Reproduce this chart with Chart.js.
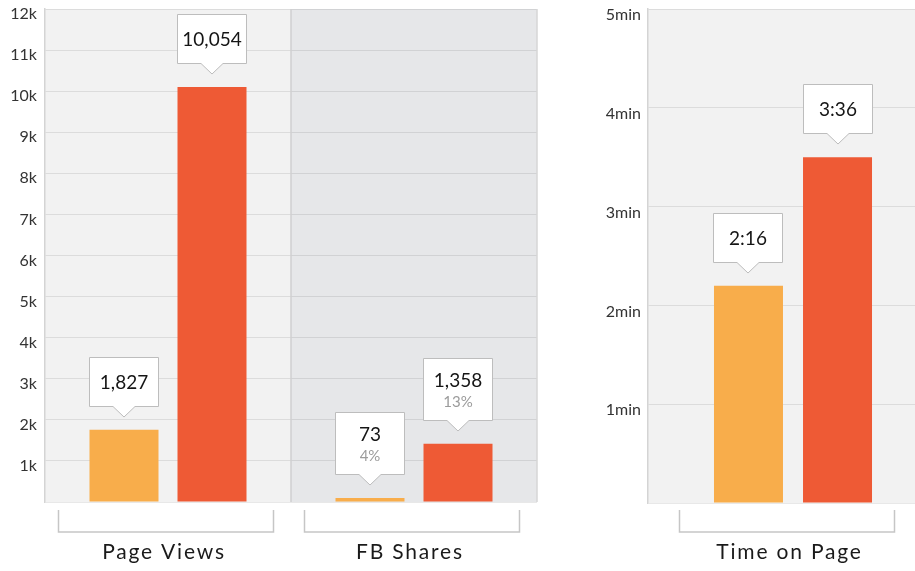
<!DOCTYPE html>
<html><head><meta charset="utf-8">
<script src="https://cdn.jsdelivr.net/npm/chart.js@4.4.1/dist/chart.umd.min.js"></script>
<style>
html,body{margin:0;padding:0;background:#fff;overflow:hidden;width:915px;height:571px;}
#wrap{position:relative;width:915px;height:571px;overflow:hidden;}
#c1{position:absolute;left:0;top:0;}
#c2{position:absolute;left:560px;top:0;}
</style></head><body>
<div id="wrap"><canvas id="c1" width="560" height="571"></canvas><canvas id="c2" width="400" height="571"></canvas></div>
<script>
// ---- data ----
const engagementCategories = ['Page Views', 'FB Shares'];
const engagementBefore = [1760, 100];
const engagementAfter = [10100, 1420];
const engagementBeforeLabels = ['1,827', '73'];
const engagementAfterLabels = ['10,054', '1,358'];
const engagementBeforeShares = ['', '4%'];
const engagementAfterShares = ['', '13%'];
const engagementTickLabels = ['', '1k', '2k', '3k', '4k', '5k', '6k', '7k', '8k', '9k', '10k', '11k', '12k'];

const timeCategories = ['Time on Page'];
const timeBefore = [2.2];
const timeAfter = [3.5];
const timeBeforeLabels = ['2:16'];
const timeAfterLabels = ['3:36'];
const timeTickLabels = ['', '1min', '2min', '3min', '4min', '5min'];

// ---- styles ----
const FONT = 'Lato, "Open Sans", sans-serif';
const ORANGE = '#f8ad4b';
const RED = '#ee5a35';

function calloutPlugin(mainLabels, subLabels) {
  return {
    id: 'callouts',
    afterDatasetsDraw(chart) {
      const ctx = chart.ctx;
      chart.data.datasets.forEach((ds, di) => {
        const meta = chart.getDatasetMeta(di);
        meta.data.forEach((bar, i) => {
          const main = mainLabels[di][i];
          const sub = subLabels[di][i];
          const w = Math.round(bar.width) + 1;
          const h = sub ? 63 : 50;
          const ptrH = 10, ptrW = 11, gap = 13;
          const cx = Math.round(bar.x);
          const tipY = Math.round(bar.y - gap);
          const boxBottom = tipY - ptrH;
          const boxTop = boxBottom - h;
          const left = Math.round(bar.x - w / 2);
          ctx.save();
          ctx.fillStyle = '#ffffff';
          ctx.strokeStyle = '#bdbdbd';
          ctx.lineWidth = 1;
          ctx.beginPath();
          ctx.moveTo(left + 0.5, boxTop + 0.5);
          ctx.lineTo(left + w - 0.5, boxTop + 0.5);
          ctx.lineTo(left + w - 0.5, boxBottom - 0.5);
          ctx.lineTo(cx + ptrW, boxBottom - 0.5);
          ctx.lineTo(cx, tipY);
          ctx.lineTo(cx - ptrW, boxBottom - 0.5);
          ctx.lineTo(left + 0.5, boxBottom - 0.5);
          ctx.closePath();
          ctx.fill();
          ctx.stroke();
          ctx.textAlign = 'center';
          ctx.textBaseline = 'middle';
          ctx.fillStyle = '#151515';
          ctx.font = '19px ' + FONT;
          if (sub) {
            ctx.fillText(main, cx, boxTop + 23);
            ctx.fillStyle = '#9b9b9b';
            ctx.font = '15px ' + FONT;
            ctx.fillText(sub, cx, boxTop + 44);
          } else {
            ctx.fillText(main, cx, boxTop + h / 2 + 1);
          }
          ctx.restore();
        });
      });
    }
  };
}

function panelPlugin(panelColors, dividerColor, rightBorder, bracketShift, labelShift) {
  return {
    id: 'panels',
    beforeDraw(chart) {
      const ctx = chart.ctx;
      const a = chart.chartArea;
      const n = chart.data.labels.length;
      const step = (a.right - a.left) / n;
      ctx.save();
      for (let i = 0; i < n; i++) {
        ctx.fillStyle = panelColors[i];
        ctx.fillRect(a.left + step * i, a.top, step, a.bottom - a.top);
      }
      ctx.restore();
    },
    afterDraw(chart) {
      const ctx = chart.ctx;
      const a = chart.chartArea;
      const n = chart.data.labels.length;
      const step = (a.right - a.left) / n;
      ctx.save();
      ctx.lineWidth = 1.5;
      for (let i = 1; i < n; i++) {
        ctx.strokeStyle = dividerColor;
        ctx.beginPath();
        ctx.moveTo(a.left + step * i, a.top);
        ctx.lineTo(a.left + step * i, a.bottom);
        ctx.stroke();
      }
      if (rightBorder) {
        ctx.strokeStyle = '#d6d6d6';
        ctx.beginPath();
        ctx.moveTo(a.right, a.top);
        ctx.lineTo(a.right, a.bottom);
        ctx.stroke();
      }
      // brackets + category labels
      const xs = chart.scales.x;
      chart.data.labels.forEach((lab, i) => {
        const cx = xs.getPixelForValue(i) + bracketShift;
        const half = 107.5;
        ctx.strokeStyle = '#c6c6c6';
        ctx.lineWidth = 1.5;
        ctx.beginPath();
        ctx.moveTo(cx - half, 510);
        ctx.lineTo(cx - half, 532);
        ctx.lineTo(cx + half, 532);
        ctx.lineTo(cx + half, 510);
        ctx.stroke();
        ctx.fillStyle = '#1a1a1a';
        ctx.font = '21px ' + FONT;
        ctx.letterSpacing = '1.8px';
        ctx.textAlign = 'center';
        ctx.textBaseline = 'alphabetic';
        ctx.fillText(lab, xs.getPixelForValue(i) + labelShift, 559);
        ctx.letterSpacing = '0px';
      });
      ctx.restore();
    }
  };
}

function yAxis(max, step, labels, width, pad, off) {
  return {
    min: 0, max: max,
    ticks: {
      stepSize: step, padding: pad, color: '#333333', labelOffset: off,
      font: { family: FONT, size: 16, lineHeight: 1 },
      callback: (v, idx) => labels[Math.round(v / step)]
    },
    grid: { color: 'rgba(0,0,0,0.09)', lineWidth: 1, drawTicks: false },
    border: { display: true, color: '#d4d4d4', width: 1.5 },
    afterFit(scale) {
      scale.width = width;
      scale.paddingTop = 0;
      scale.paddingBottom = 0;
    }
  };
}

Chart.defaults.font.family = FONT;

new Chart(document.getElementById('c1'), {
  type: 'bar',
  data: {
    labels: engagementCategories,
    datasets: [
      { data: engagementBefore, backgroundColor: ORANGE, categoryPercentage: 0.7155, barPercentage: 0.784 },
      { data: engagementAfter, backgroundColor: RED, categoryPercentage: 0.7155, barPercentage: 0.784 }
    ]
  },
  options: {
    responsive: false, animation: false, devicePixelRatio: 1,
    layout: { padding: { left: 0, right: 23, top: 9, bottom: 69 } },
    plugins: { legend: { display: false }, tooltip: { enabled: false } },
    scales: {
      x: { display: false, offset: true },
      y: yAxis(12000, 1000, engagementTickLabels, 45, 8, 5)
    }
  },
  plugins: [
    panelPlugin(['#f2f2f2', '#e6e7e9'], '#cfcfd1', true, -2, -4),
    calloutPlugin([engagementBeforeLabels, engagementAfterLabels], [engagementBeforeShares, engagementAfterShares])
  ]
});

new Chart(document.getElementById('c2'), {
  type: 'bar',
  data: {
    labels: timeCategories,
    datasets: [
      { data: timeBefore, backgroundColor: ORANGE, categoryPercentage: 0.614, barPercentage: 0.775 },
      { data: timeAfter, backgroundColor: RED, categoryPercentage: 0.614, barPercentage: 0.775 }
    ]
  },
  options: {
    responsive: false, animation: false, devicePixelRatio: 1,
    layout: { padding: { left: 0, right: 22, top: 9, bottom: 68 } },
    plugins: { legend: { display: false }, tooltip: { enabled: false } },
    scales: {
      x: { display: false, offset: true },
      y: yAxis(5, 1, timeTickLabels, 88, 7, 6)
    }
  },
  plugins: [
    panelPlugin(['#f2f2f2'], '#cfcfd1', false, -6, -3.5),
    calloutPlugin([timeBeforeLabels, timeAfterLabels], [['', ''], ['', '']])
  ]
});
</script>
</body></html>
